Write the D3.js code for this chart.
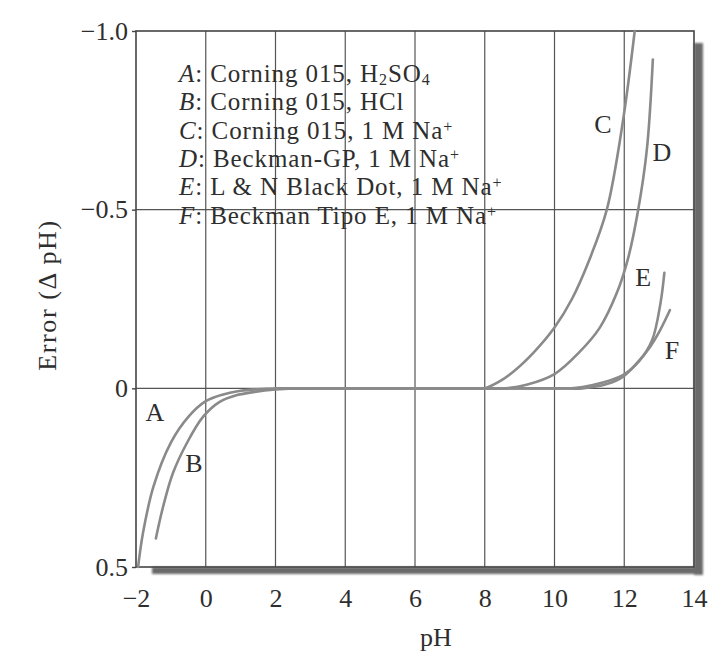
<!DOCTYPE html>
<html>
<head>
<meta charset="utf-8">
<script src="https://cdn.jsdelivr.net/npm/d3@7"></script>
<style>
  body { margin: 0; background: #ffffff; }
  svg { display: block; }
  text { font-family: "Liberation Serif", "Times New Roman", serif; fill: #2e2e2e; }
</style>
</head>
<body>
<svg id="chart" width="725" height="656"></svg>
<script>
// Axis ticks
const pHTicks = [-2, 0, 2, 4, 6, 8, 10, 12, 14];
const pHTickLabels = ["−2", "0", "2", "4", "6", "8", "10", "12", "14"];
const errTicks = [-1.0, -0.5, 0, 0.5];
const errTickLabels = ["−1.0", "−0.5", "0", "0.5"];
const gridPH = [0, 2, 4, 6, 8, 10, 12];
const gridErr = [-0.5, 0];

// Electrode error curves (pH, error in pH units)
const pH_A  = [-1.94, -1.80, -1.50, -1.00, -0.50, 0.00, 0.50, 1.00, 1.60, 2.20, 2.80];
const err_A = [0.50, 0.405, 0.275, 0.152, 0.080, 0.036, 0.017, 0.007, 0.002, 0.0, 0.0];
const pH_B  = [-1.43, -1.22, -0.94, -0.54, -0.08, 0.40, 0.90, 1.40, 2.00, 2.50, 3.00];
const err_B = [0.42, 0.33, 0.237, 0.153, 0.080, 0.038, 0.019, 0.010, 0.003, 0.0, 0.0];
const pH_C  = [2.0, 5.0, 7.0, 7.6, 8.0, 8.4, 8.8, 9.4, 10.0, 10.5, 11.0, 11.5, 11.95, 12.3];
const err_C = [0.0, 0.0, 0.0, 0.0, 0.0, -0.018, -0.045, -0.10, -0.17, -0.25, -0.36, -0.50, -0.74, -1.0];
const pH_D  = [2.0, 5.0, 7.5, 8.2, 8.6, 9.2, 10.0, 10.7, 11.3, 11.8, 12.1, 12.4, 12.65, 12.82];
const err_D = [0.0, 0.0, 0.0, 0.0, 0.0, -0.01, -0.04, -0.10, -0.17, -0.27, -0.36, -0.50, -0.67, -0.92];
const pH_E  = [2.0, 6.0, 9.0, 10.0, 10.5, 11.1, 11.96, 12.45, 12.8, 13.04, 13.15];
const err_E = [0.0, 0.0, 0.0, 0.0, 0.0, -0.009, -0.037, -0.079, -0.135, -0.239, -0.323];
const pH_F  = [2.0, 6.0, 9.0, 10.2, 10.8, 11.5, 11.96, 12.37, 12.74, 13.03, 13.31];
const err_F = [0.0, 0.0, 0.0, 0.0, 0.0, -0.012, -0.032, -0.071, -0.116, -0.163, -0.219];

const curveNames = ["A", "B", "C", "D", "E", "F"];
const curvePH = [pH_A, pH_B, pH_C, pH_D, pH_E, pH_F];
const curveErr = [err_A, err_B, err_C, err_D, err_E, err_F];

// Letter tags placed beside each curve (data coordinates)
const tagPH = [-1.46, -0.34, 11.39, 13.08, 12.54, 13.37];
const tagErr = [0.069, 0.209, -0.737, -0.659, -0.309, -0.107];

// Legend entries: "_n" marks a subscript, "^+" a superscript
const legendText = [
  "Corning 015, H_2SO_4",
  "Corning 015, HCl",
  "Corning 015, 1 M Na^+",
  "Beckman-GP, 1 M Na^+",
  "L & N Black Dot, 1 M Na^+",
  "Beckman Tipo E, 1 M Na^+"
];

const svg = d3.select("#chart");
const x = d3.scaleLinear().domain([-2, 14]).range([136, 694]);
const y = d3.scaleLinear().domain([-1, 0.5]).range([31, 567]);
const FS = 26;

const defs = svg.append("defs");
defs.append("filter").attr("id", "soft").attr("x", "-5%").attr("y", "-5%").attr("width", "110%").attr("height", "110%")
  .append("feGaussianBlur").attr("stdDeviation", 1.2);

// Drop shadow along the right and bottom edges of the frame
const shadow = svg.append("g").attr("filter", "url(#soft)").attr("fill", "#6a6a6a");
shadow.append("rect").attr("x", x(14)).attr("y", y(-1) + 12).attr("width", 9).attr("height", y(0.5) - y(-1) - 4);
shadow.append("rect").attr("x", x(-2) + 16).attr("y", y(0.5)).attr("width", x(14) - x(-2) - 7).attr("height", 7);

// Grid lines
const grid = svg.append("g").attr("stroke", "#555").attr("stroke-width", 1.2);
grid.selectAll("line.v").data(gridPH).join("line").attr("class", "v")
  .attr("x1", d => x(d)).attr("x2", d => x(d)).attr("y1", y(-1)).attr("y2", y(0.5));
grid.selectAll("line.h").data(gridErr).join("line").attr("class", "h")
  .attr("x1", x(-2)).attr("x2", x(14)).attr("y1", d => y(d)).attr("y2", d => y(d));

// Frame
svg.append("rect").attr("x", x(-2)).attr("y", y(-1)).attr("width", x(14) - x(-2)).attr("height", y(0.5) - y(-1))
  .attr("fill", "none").attr("stroke", "#444").attr("stroke-width", 1.6);

// Axes
const xAxis = d3.axisBottom(x).tickValues(pHTicks).tickSize(0).tickPadding(22)
  .tickFormat((d, i) => pHTickLabels[i]);
const gx = svg.append("g").attr("transform", `translate(0,${y(0.5)})`).call(xAxis);
gx.select(".domain").remove();
gx.selectAll("text").attr("font-size", FS).attr("font-family", "Liberation Serif").attr("fill", "#2e2e2e");

const yAxis = d3.axisLeft(y).tickValues(errTicks).tickSize(4).tickPadding(4)
  .tickFormat((d, i) => errTickLabels[i]);
const gy = svg.append("g").attr("transform", `translate(${x(-2)},0)`).call(yAxis);
gy.select(".domain").remove();
gy.selectAll("line").attr("stroke", "#444").attr("stroke-width", 1.4);
gy.selectAll("text").attr("font-size", FS).attr("font-family", "Liberation Serif").attr("fill", "#2e2e2e");

// Axis titles
svg.append("text").attr("x", x(6.6)).attr("y", 646).attr("text-anchor", "middle")
  .attr("font-size", FS).text("pH");
svg.append("text").attr("transform", `translate(56,295) rotate(-90)`).attr("text-anchor", "middle")
  .attr("font-size", FS).attr("letter-spacing", 1.6).text("Error (Δ pH)");

// Curves
const line = d3.line().x(d => x(d[0])).y(d => y(d[1])).curve(d3.curveCatmullRom.alpha(0.5));
svg.append("g").selectAll("path").data(curveNames).join("path")
  .attr("d", (n, i) => line(curvePH[i].map((p, j) => [p, curveErr[i][j]])))
  .attr("fill", "none").attr("stroke", "#8a8a8a").attr("stroke-width", 2.6)
  .attr("stroke-linecap", "round").attr("stroke-linejoin", "round");

// Curve letters
svg.append("g").selectAll("text").data(curveNames).join("text")
  .attr("x", (n, i) => x(tagPH[i])).attr("y", (n, i) => y(tagErr[i]))
  .attr("text-anchor", "middle").attr("dominant-baseline", "central")
  .attr("font-size", FS).text(n => n);

// Legend
const legend = svg.append("g");
legendText.forEach((s, i) => {
  const t = legend.append("text").attr("x", 179).attr("y", 82 + i * 28.3)
    .attr("font-size", 25).attr("letter-spacing", 0.9);
  t.append("tspan").attr("font-style", "italic").text(curveNames[i]);
  t.append("tspan").text(": ");
  s.split(/(_\d|\^\+)/).filter(p => p.length).forEach(p => {
    if (p[0] === "_") {
      t.append("tspan").attr("font-size", 16).attr("baseline-shift", "-18%").text(p.slice(1));
    } else if (p[0] === "^") {
      t.append("tspan").attr("font-size", 16).attr("baseline-shift", "45%").text(p.slice(1));
    } else {
      t.append("tspan").text(p);
    }
  });
});
</script>
</body>
</html>
